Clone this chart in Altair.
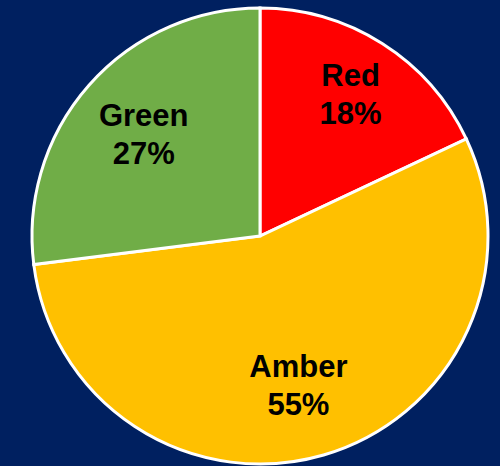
import altair as alt
import pandas as pd
import math

categories = ["Red", "Amber", "Green"]
percents = [18, 55, 27]
colors = ["#FF0000", "#FFC000", "#70AD47"]

df = pd.DataFrame({
    "cat": categories,
    "pct": percents,
    "idx": list(range(len(categories))),
})
df["label"] = df["cat"] + "\n" + df["pct"].astype(str) + "%"

CX, CY, R = 260, 236, 228
total = sum(percents)
tscale = alt.Scale(domain=[0, total], range=[0, 2 * math.pi])

base = alt.Chart(df).transform_window(
    cum="sum(pct)", sort=[alt.SortField("idx")]
).transform_calculate(
    start="datum.cum - datum.pct", mid="datum.cum - datum.pct / 2"
)

pie = base.mark_arc(outerRadius=R, stroke="white", strokeWidth=3, x=CX, y=CY).encode(
    theta=alt.Theta("start:Q", scale=tscale),
    theta2="cum:Q",
    color=alt.Color("cat:N", scale=alt.Scale(domain=categories, range=colors), legend=None),
)

label_style = {"Red": (169, 0, -16), "Amber": (152, -4, -14), "Green": (155, 0, -16)}
layers = [pie]
for c in categories:
    rad, dx, dy = label_style[c]
    layers.append(
        base.transform_filter(alt.datum.cat == c).mark_text(
            radius=rad, x=CX, y=CY, dx=dx, dy=dy,
            font="Liberation Sans", fontWeight="bold", fontSize=31,
            color="black", lineBreak="\n", lineHeight=38,
            align="center", baseline="middle",
        ).encode(
            theta=alt.Theta("mid:Q", scale=tscale),
            text="label:N",
        )
    )

chart = alt.layer(*layers).properties(
    width=500, height=466, padding=0, autosize=alt.AutoSizeParams(type="none"),
    background="#002060",
).configure_view(stroke=None)

chart.save("out.html", embed_options={"renderer": "svg", "actions": False})
